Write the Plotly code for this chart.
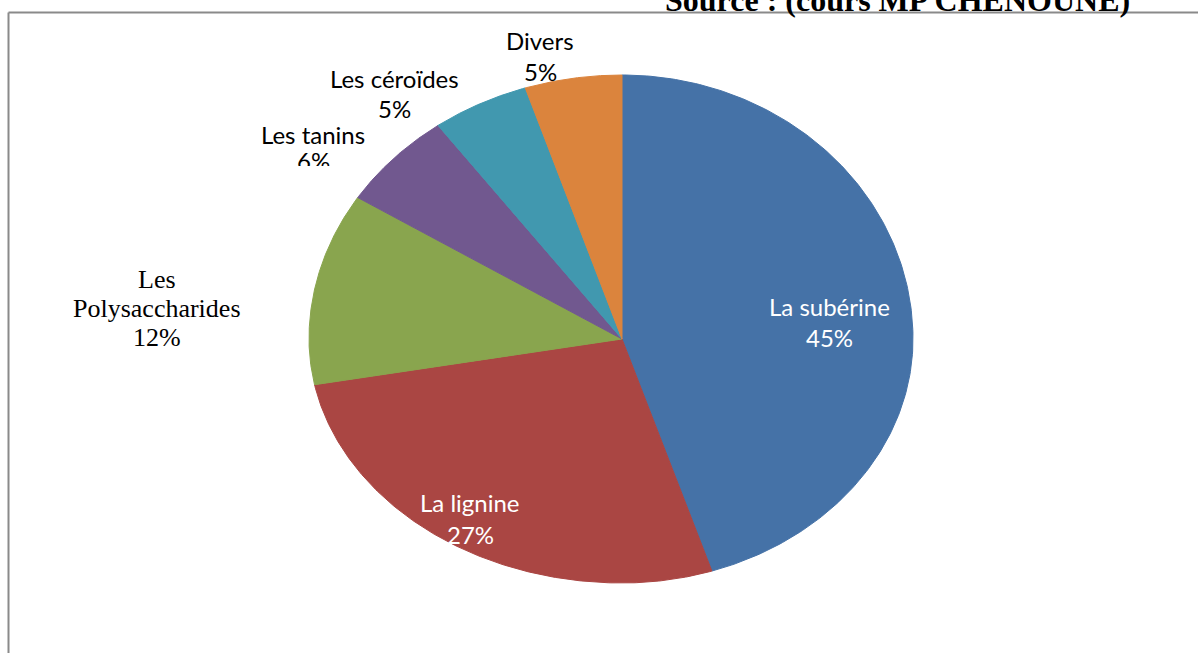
import numpy as np
import plotly.graph_objects as go

# ---------------- data ----------------
labels = ["La subérine", "La lignine", "Les Polysaccharides", "Les tanins", "Les céroïdes", "Divers"]
values = [45, 27, 12, 6, 5, 5]
source_text = "Source : (cours MP CHENOUNE)"

# ---------------- style / layout ----------------
colors = ["#4572A7", "#AA4643", "#89A54E", "#71588F", "#4198AF", "#DB843D"]
W, H = 1198, 653
CX, CY = 622, 339                      # pie vertex (px)
RX_R, RX_L, RY_T, RY_B = 291, 313, 264, 244   # ellipse radii (px)

SANS = "Lato"
SERIF = "Liberation Serif"
# label placement: x centre, y of each line's cap centre, font, colour, wrap, clip
label_layout = [
    dict(x=829, ys=[306, 337], font=SANS, size=24, color="white", wrap=False),
    dict(x=470, ys=[502, 534], font=SANS, size=24, color="white", wrap=False),
    dict(x=157, ys=[279, 308, 337], font=SERIF, size=26, color="black", wrap=True),
    dict(x=313, ys=[134, 166], font=SANS, size=24, color="black", wrap=False, clip_last=168),
    dict(x=394, ys=[78, 108], font=SANS, size=24, color="black", wrap=False),
    dict(x=540, ys=[40, 71], font=SANS, size=24, color="black", wrap=False),
]


def ellipse_pt(t):
    s, c = np.sin(t), np.cos(t)
    x = CX + s * np.where(s >= 0, RX_R, RX_L)
    y = CY - c * np.where(c >= 0, RY_T, RY_B)
    return x, y


total = float(sum(values))
edges = np.concatenate([[0.0], np.cumsum(values)]) / total * 2 * np.pi

fig = go.Figure()
for i, (lab, val) in enumerate(zip(labels, values)):
    t = np.linspace(edges[i], edges[i + 1], 200)
    ex, ey = ellipse_pt(t)
    xs = np.concatenate([[CX], ex, [CX]])
    ys = np.concatenate([[CY], ey, [CY]])
    fig.add_trace(go.Scatter(
        x=xs, y=ys, mode="lines", fill="toself",
        fillcolor=colors[i], line=dict(color=colors[i], width=1),
        name=lab, hoverinfo="text", text=f"{lab}: {val}%", showlegend=False))

annotations = []
for lab, val, spec in zip(labels, values, label_layout):
    name_lines = lab.split(" ", 1) if spec["wrap"] else [lab]
    lines = name_lines + [f"{val}%"]
    for j, (txt, yy) in enumerate(zip(lines, spec["ys"])):
        ann = dict(x=spec["x"], y=yy, xref="x", yref="y", text=txt, showarrow=False,
                   xanchor="center", yanchor="middle",
                   font=dict(family=spec["font"], size=spec["size"], color=spec["color"]))
        if j == len(lines) - 1 and "clip_last" in spec:
            ann.update(y=spec["clip_last"], yanchor="bottom", height=20, valign="top")
        annotations.append(ann)

annotations.append(dict(x=897, y=1, xref="x", yref="paper", yshift=0,
                        text=f"<b>{source_text}</b>",
                        showarrow=False, xanchor="center", yanchor="middle",
                        font=dict(family=SERIF, size=32, color="black")))

shapes = [
    dict(type="line", xref="x", yref="y", x0=8.5, x1=W, y0=12.5, y1=12.5,
         line=dict(color="#8a8a8a", width=2)),
    dict(type="line", xref="x", yref="y", x0=8.5, x1=8.5, y0=12.5, y1=H,
         line=dict(color="#8a8a8a", width=2)),
]

fig.update_layout(
    width=W, height=H, margin=dict(l=0, r=0, t=0, b=0),
    paper_bgcolor="white", plot_bgcolor="white",
    xaxis=dict(range=[0, W], visible=False, fixedrange=True),
    yaxis=dict(range=[H, 0], visible=False, fixedrange=True),
    annotations=annotations, shapes=shapes, showlegend=False,
)

fig.write_html("out.html", config={"displayModeBar": False},
               post_script="document.body.style.margin='0';document.body.style.overflow='hidden';")
